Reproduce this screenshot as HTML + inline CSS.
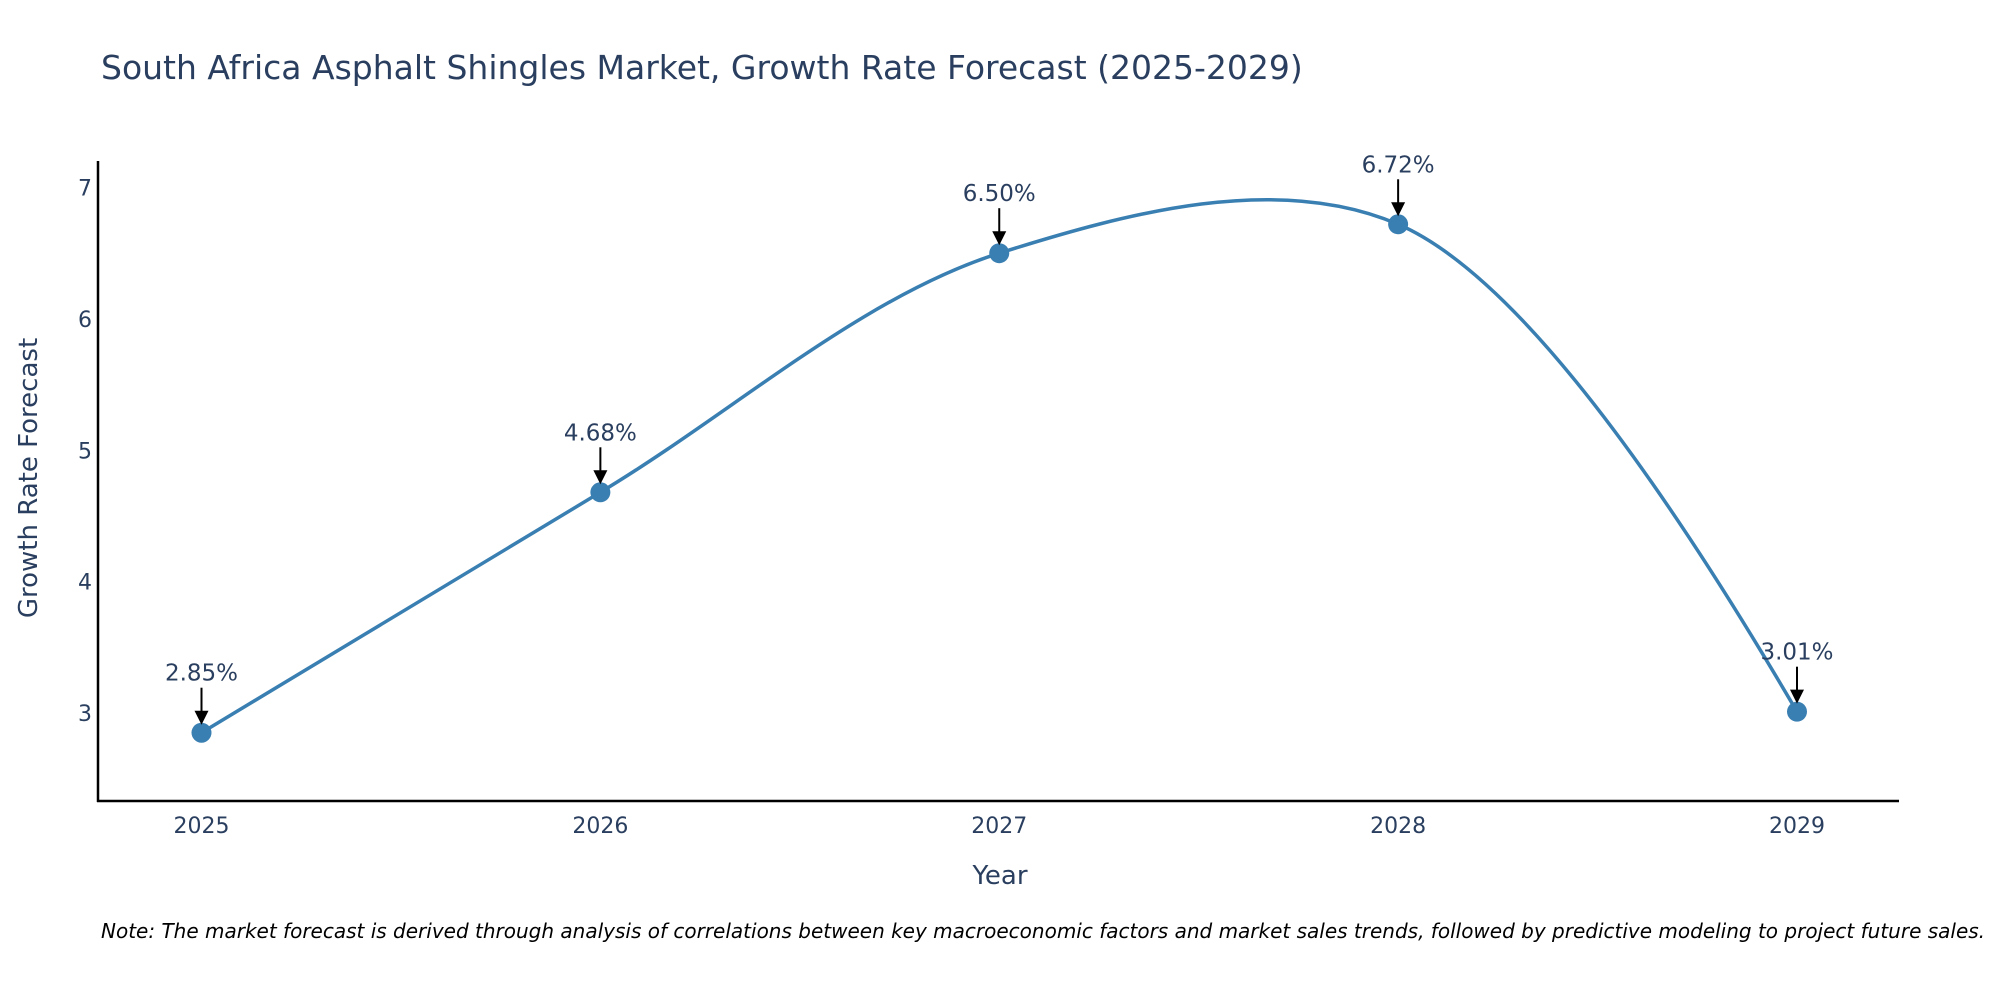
<!DOCTYPE html>
<html><head><meta charset="utf-8"><style>
html,body{margin:0;padding:0;background:#fff;}
svg text{font-family:"DejaVu Sans","Liberation Sans",sans-serif;fill:#2a3f5f;}
</style></head><body>
<svg id="chart" width="2000" height="1000" xmlns="http://www.w3.org/2000/svg">
<text x="101" y="79" font-size="33">South Africa Asphalt Shingles Market, Growth Rate Forecast (2025-2029)</text>
<line x1="98" y1="161" x2="98" y2="802" stroke="#000" stroke-width="2.5"/>
<line x1="97" y1="801" x2="1899" y2="801" stroke="#000" stroke-width="2.5"/>
<g id="yticks"></g>
<g id="xticks"></g>
<text transform="translate(37,478) rotate(-90)" text-anchor="middle" font-size="26">Growth Rate Forecast</text>
<text x="1000" y="884" text-anchor="middle" font-size="26">Year</text>
<path id="line" fill="none" stroke="#3a7fb2" stroke-width="3.5"/>
<g id="points"></g>
<g id="annos"></g>
<text x="101" y="938" font-size="20" font-style="italic" style="fill:#000">Note: The market forecast is derived through analysis of correlations between key macroeconomic factors and market sales trends, followed by predictive modeling to project future sales.</text>
</svg>
<script>
const years = [2025, 2026, 2027, 2028, 2029];
const values = [2.85, 4.68, 6.50, 6.72, 3.01];
const labels = ["2.85%", "4.68%", "6.50%", "6.72%", "3.01%"];
const yTicks = [3, 4, 5, 6, 7];

const NS = "http://www.w3.org/2000/svg";
const xS = v => 201.5 + (v - 2025) * (1797 - 201.5) / 4;
const yS = v => 713 - (v - 3) * (713 - 187.5) / 4;
function mk(tag, attrs, parent, text) {
  const el = document.createElementNS(NS, tag);
  for (const k in attrs) el.setAttribute(k, attrs[k]);
  if (text !== undefined) el.textContent = text;
  parent.appendChild(el);
  return el;
}
const yt = document.getElementById('yticks');
yTicks.forEach(t => {
  const el = mk('text', {x: 92, y: yS(t) + 8, 'text-anchor': 'end', 'font-size': 22}, yt, String(t));
  
  
});
const xt = document.getElementById('xticks');
years.forEach(y => {
  const el = mk('text', {x: xS(y), y: 833, 'text-anchor': 'middle', 'font-size': 22}, xt, String(y));
  
  
});
const pts = years.map((y, i) => [xS(y), yS(values[i])]);
function tangent(p, t, n, s) {
  const d1x = p[0]-t[0], d1y = p[1]-t[1], d2x = n[0]-t[0], d2y = n[1]-t[1];
  const d1a = Math.pow(d1x*d1x+d1y*d1y, 0.25), d2a = Math.pow(d2x*d2x+d2y*d2y, 0.25);
  const nx = (d2a*d2a*d1x - d1a*d1a*d2x)*s, ny = (d2a*d2a*d1y - d1a*d1a*d2y)*s;
  const den1 = 3*d2a*(d1a+d2a), den2 = 3*d1a*(d1a+d2a);
  return [[t[0]+nx/den1, t[1]+ny/den1], [t[0]-nx/den2, t[1]-ny/den2]];
}
const tg = [];
for (let i = 1; i < pts.length - 1; i++) tg.push(tangent(pts[i-1], pts[i], pts[i+1], 1));
const f = p => p[0].toFixed(2) + ',' + p[1].toFixed(2);
let d = 'M' + f(pts[0]) + 'Q' + f(tg[0][0]) + ' ' + f(pts[1]);
for (let i = 2; i < pts.length - 1; i++) d += 'C' + f(tg[i-2][1]) + ' ' + f(tg[i-1][0]) + ' ' + f(pts[i]);
d += 'Q' + f(tg[pts.length-3][1]) + ' ' + f(pts[pts.length-1]);
document.getElementById('line').setAttribute('d', d);
const pg = document.getElementById('points'), ag = document.getElementById('annos');
pts.forEach((p, i) => {
  const c = mk('circle', {cx: p[0], cy: p[1], r: 10, fill: '#3a7fb2'}, pg);
  
  
  const l = mk('line', {x1: p[0], y1: p[1]-45, x2: p[0], y2: p[1]-20, stroke: '#000', 'stroke-width': 2}, ag);
  
  
  const h = mk('polygon', {points: `${p[0]-7},${p[1]-22} ${p[0]+7},${p[1]-22} ${p[0]},${p[1]-8}`, fill: '#000'}, ag);
  
  
  const t = mk('text', {x: p[0], y: p[1]-52, 'text-anchor': 'middle', 'font-size': 23}, ag, labels[i]);
  
  
});
</script>
</body></html>
